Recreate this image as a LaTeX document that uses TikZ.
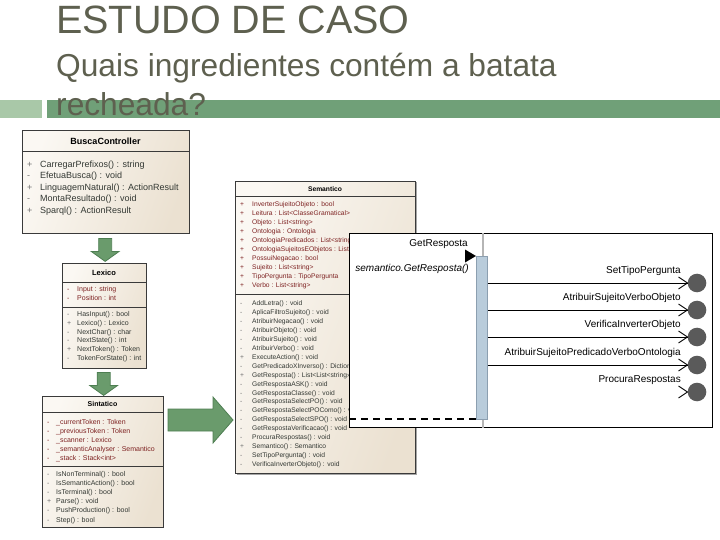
\documentclass[tikz,border=0pt]{standalone}
\usepackage{fontspec}
\setmainfont{Liberation Sans}
\usetikzlibrary{calc}
\definecolor{titlegray}{HTML}{5E604F}
\definecolor{bardark}{HTML}{70A078}
\definecolor{barlight}{HTML}{A9C8A8}
\definecolor{umlfillA}{HTML}{FBF8F3}
\definecolor{umlfillB}{HTML}{EBE1D1}
\definecolor{umlborder}{HTML}{3A3A3A}
\definecolor{attrred}{HTML}{7E2222}
\definecolor{methtext}{HTML}{333833}
\definecolor{prefgray}{HTML}{707070}
\definecolor{arrowgreen}{HTML}{6A9B6C}
\definecolor{arrowedge}{HTML}{4E7E52}
\definecolor{actfill}{HTML}{B9CCDB}
\definecolor{actedge}{HTML}{8C9FB0}
\definecolor{lifegray}{HTML}{B5B5B5}
\definecolor{endgray}{HTML}{5A5A5A}
\newcommand\fsBC{\fontsize{9}{10}\selectfont}
\newcommand\fsLX{\fontsize{7}{8}\selectfont}
\newcommand\fsSE{\fontsize{6.7}{7.5}\selectfont}
\newcommand\fsSQ{\fontsize{10}{12}\selectfont}
\begin{document}
\begin{tikzpicture}[x=1pt,y=-1pt,
  umlbox/.style={draw=umlborder, line width=0.8pt, left color=umlfillA, right color=umlfillB, shading angle=70, inner sep=0, anchor=north west},
  umlshadow/.style={fill=black!35},
  umlline/.style={draw=umlborder, line width=0.7pt},
  rowtxt/.style={anchor=base west, inner sep=0},
  headtxt/.style={anchor=base, inner sep=0, font=\bfseries},
  bigarrow/.style={fill=arrowgreen, draw=arrowedge, line width=0.8pt, line join=miter},
  downarrow/.pic={\path[bigarrow] (-6.5,-10) -- (6.5,-10) -- (6.5,3) -- (14,3) -- (0,13) -- (-14,3) -- (-6.5,3) -- cycle;},
  rightarrow/.pic={\path[bigarrow] (-32,-11) -- (13,-11) -- (13,-23) -- (33,0) -- (13,23) -- (13,11) -- (-32,11) -- cycle;},
  msg/.style={draw=black, line width=0.9pt},
  endpt/.style={circle, fill=endgray, minimum size=18.6pt, inner sep=0},
  seqlabel/.style={anchor=base east, inner sep=0, font=\fsSQ}
]
\useasboundingbox (0,0) rectangle (720,540);

% ---------- title area ----------
\fill[barlight] (0,100) rectangle (42,118);
\fill[bardark] (47,100) rectangle (720,118);
\node[anchor=base west, inner sep=0, text=titlegray, font=\fontsize{39.5}{40}\selectfont] (title) at (56,34) {ESTUDO DE CASO};
\node[anchor=base west, inner sep=0, text=titlegray, font=\fontsize{31.7}{36}\selectfont] (sub1) at (56,77) {Quais ingredientes contém a batata};
\node[anchor=base west, inner sep=0, text=titlegray, font=\fontsize{31.7}{36}\selectfont] (sub2) at (56,116) {recheada?};

% ---------- BuscaController ----------
\fill[umlshadow] (23.5,131.5) rectangle (190.3,234.3);
\node[umlbox, minimum width=167pt, minimum height=103pt] (busca) at (22,130) {};
\draw[umlline] (22,151) -- (189,151);
\node[headtxt, font=\fsBC\bfseries] (buscah) at (105.5,144.3) {BuscaController};
\foreach \p/\t [count=\i from 0] in {+/CarregarPrefixos() : string, -/EfetuaBusca() : void, +/LinguagemNatural() : ActionResult, -/MontaResultado() : void, +/Sparql() : ActionResult}{
  \node[rowtxt, font=\fsBC, text=prefgray] (bcp\i) at (27,{167.2+11.6*\i}) {\p};
  \node[rowtxt, font=\fsBC, text=methtext] (bct\i) at (40,{167.2+11.6*\i}) {\t};
}

% ---------- Lexico ----------
\fill[umlshadow] (63.5,264.5) rectangle (147.3,369.3);
\node[umlbox, minimum width=84pt, minimum height=105pt] (lexico) at (62,263) {};
\draw[umlline] (62,282) -- (146,282);
\draw[umlline] (62,307) -- (146,307);
\node[headtxt, font=\fontsize{7.5}{8}\selectfont\bfseries] (lexh) at (104,275.7) {Lexico};
\foreach \p/\t [count=\i from 0] in {-/Input : string, -/Position : int}{
  \node[rowtxt, font=\fsLX, text=attrred] (lxap\i) at (67,{291.5+9*\i}) {\p};
  \node[rowtxt, font=\fsLX, text=attrred] (lxat\i) at (77,{291.5+9*\i}) {\t};
}
\foreach \p/\t [count=\i from 0] in {-/HasInput() : bool, +/Lexico() : Lexico, -/NextChar() : char, -/NextState() : int, +/NextToken() : Token, -/TokenForState() : int}{
  \node[rowtxt, font=\fsLX, text=prefgray] (lxmp\i) at (67,{316.5+8.8*\i}) {\p};
  \node[rowtxt, font=\fsLX, text=methtext] (lxmt\i) at (77,{316.5+8.8*\i}) {\t};
}

% ---------- Sintatico ----------
\fill[umlshadow] (43.5,397.5) rectangle (164.3,528.3);
\node[umlbox, minimum width=121pt, minimum height=131pt] (sint) at (42,396) {};
\draw[umlline] (42,412) -- (163,412);
\draw[umlline] (42,466) -- (163,466);
\node[headtxt, font=\fsLX\bfseries] (sinth) at (102.5,406.6) {Sintatico};
\foreach \p/\t [count=\i from 0] in {-/\_currentToken : Token, -/\_previousToken : Token, -/\_scanner : Lexico, -/\_semanticAnalyser : Semantico, -/\_stack : Stack<int>}{
  \node[rowtxt, font=\fsLX, text=attrred] (smap\i) at (47,{424.5+9*\i}) {\p};
  \node[rowtxt, font=\fsLX, text=attrred] (smat\i) at (56,{424.5+9*\i}) {\t};
}
\foreach \p/\t [count=\i from 0] in {-/IsNonTerminal() : bool, -/IsSemanticAction() : bool, -/IsTerminal() : bool, +/Parse() : void, -/PushProduction() : bool, -/Step() : bool}{
  \node[rowtxt, font=\fsLX, text=prefgray] (smmp\i) at (47,{476.5+9.1*\i}) {\p};
  \node[rowtxt, font=\fsLX, text=methtext] (smmt\i) at (56,{476.5+9.1*\i}) {\t};
}

% ---------- Semantico ----------
\fill[umlshadow] (236.5,182.5) rectangle (416.5,474.5);
\node[umlbox, minimum width=180pt, minimum height=292pt] (sem) at (235,181) {};
\draw[umlline] (235,196) -- (415,196);
\draw[umlline] (235,294) -- (415,294);
\node[headtxt, font=\fsSE\bfseries] (semh) at (325,191.5) {Semantico};
\foreach \t [count=\i from 0] in {InverterSujeitoObjeto : bool, Leitura : List<ClasseGramatical>, Objeto : List<string>, Ontologia : Ontologia, OntologiaPredicados : List<string>, OntologiaSujeitosEObjetos : List<string>, PossuiNegacao : bool, Sujeito : List<string>, TipoPergunta : TipoPergunta, Verbo : List<string>}{
  \node[rowtxt, font=\fsSE, text=attrred] (seap\i) at (240,{206.4+9*\i}) {+};
  \node[rowtxt, font=\fsSE, text=attrred] (seat\i) at (252,{206.4+9*\i}) {\t};
}
\foreach \p/\t [count=\i from 0] in {-/AddLetra() : void, -/AplicaFiltroSujeito() : void, -/AtribuirNegacao() : void, -/AtribuirObjeto() : void, -/AtribuirSujeito() : void, -/AtribuirVerbo() : void, +/ExecuteAction() : void, -/GetPredicadoXInverso() : Dictionary, +/GetResposta() : List<List<string>>, -/GetRespostaASK() : void, -/GetRespostaClasse() : void, -/GetRespostaSelectPO() : void, -/GetRespostaSelectPOComo() : void, -/GetRespostaSelectSPO() : void, -/GetRespostaVerificacao() : void, -/ProcuraRespostas() : void, +/Semantico() : Semantico, -/SetTipoPergunta() : void, -/VerificaInverterObjeto() : void}{
  \node[rowtxt, font=\fsSE, text=prefgray] (semp\i) at (240,{305.4+8.96*\i}) {\p};
  \node[rowtxt, font=\fsSE, text=methtext] (semt\i) at (252,{305.4+8.96*\i}) {\t};
}

% ---------- green block arrows ----------
\pic at ($(busca.south)!0.5!(lexico.north)$) {downarrow};
\pic at ($(lexico.south)!0.5!(sint.north)$) {downarrow};
\coordinate (rarr) at (200,420);
\pic at (rarr) {rightarrow};

% ---------- sequence fragment ----------
\node[draw=black, line width=0.9pt, fill=white, minimum width=363pt, minimum height=194pt, anchor=north west, inner sep=0] (seq) at (349,233) {};
\coordinate (ll) at (483,0);
\draw[lifegray, line width=1.4pt] (seq.north -| ll) -- (seq.south -| ll);
\node[draw=actedge, fill=actfill, line width=0.8pt, minimum width=11pt, minimum height=163pt, anchor=north west, inner sep=0] (act) at (476,256) {};
\fill[black] ($(act.north west)+(-11,-6.5)$) -- (act.north west) -- ($(act.north west)+(-11,6.5)$) -- cycle;
\node[seqlabel] (gr) at (468,247) {GetResposta};
\node[seqlabel, font=\fsSQ\itshape] (grcall) at (469,271.5) {semantico.GetResposta()};

\foreach \y/\lab [count=\i] in {283/SetTipoPergunta, 310/AtribuirSujeitoVerboObjeto, 337/VerificaInverterObjeto, 365/AtribuirSujeitoPredicadoVerboOntologia, 392/ProcuraRespostas}{
  \node[endpt] (e\i) at (697,\y) {};
  \node[seqlabel] (lab\i) at (681,{\y-13+3.6}) {\lab};
  \draw[msg] ($(e\i.west)+(-9,-6)$) -- (e\i.west) -- ($(e\i.west)+(-9,6)$);
}
\foreach \i in {1,2,3,4}{
  \draw[msg] (e\i -| act.east) -- (e\i.west);
}
\coordinate (dstart) at (349,419);
\draw[black, line width=1.4pt, dash pattern=on 7pt off 5pt] (dstart) -- (dstart -| act.west);
\end{tikzpicture}
\end{document}
